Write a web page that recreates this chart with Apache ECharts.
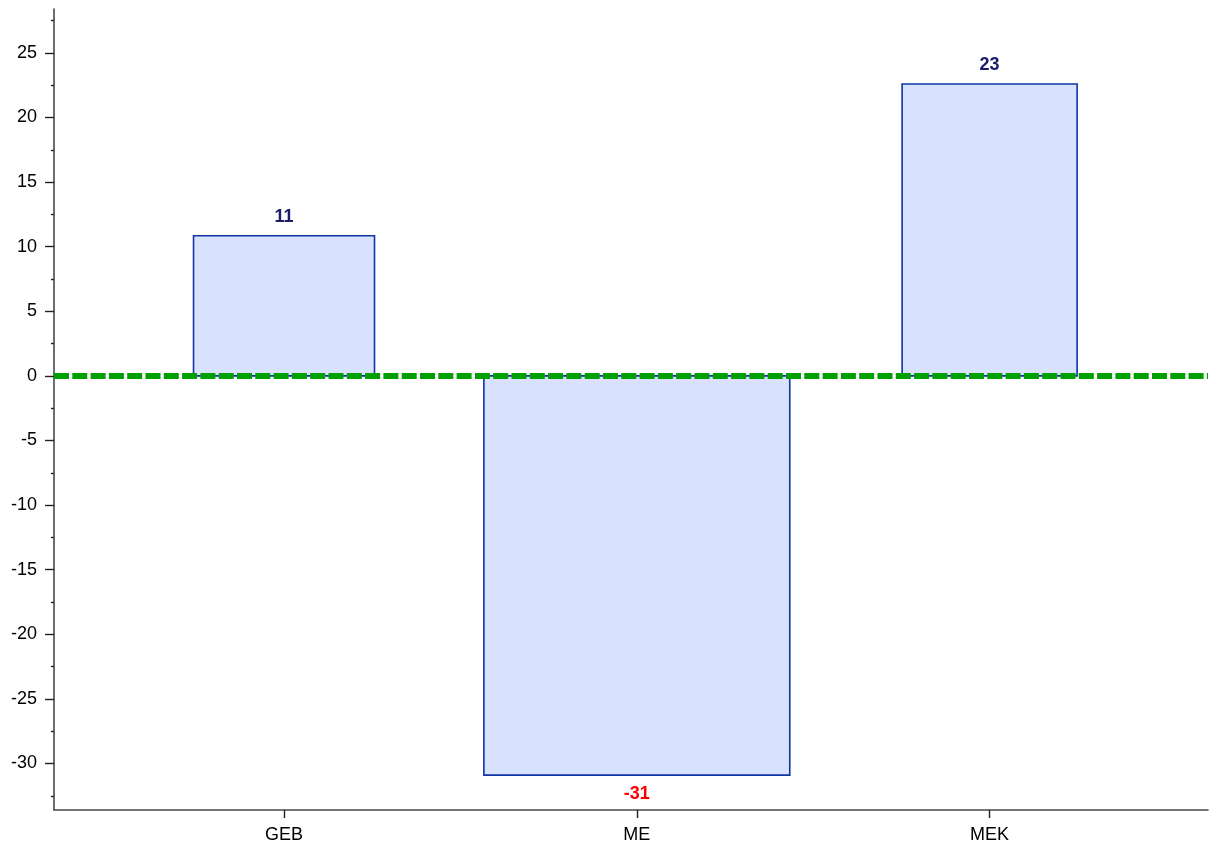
<!DOCTYPE html>
<html>
<head>
<meta charset="utf-8">
<script src="https://cdn.jsdelivr.net/npm/echarts@6/dist/echarts.min.js"></script>
<style>
html,body{margin:0;padding:0;background:#fff;}
#chart{width:1209px;height:844px;}
</style>
</head>
<body>
<div id="chart"></div>
<script>
const categories = ['GEB', 'ME', 'MEK'];
const values = [10.85, -30.9, 22.6];
const barWidths = [0.513, 0.867, 0.496];
const yMajorTicks = [-30, -25, -20, -15, -10, -5, 0, 5, 10, 15, 20, 25];
const yMinorTicks = [-32.5, -27.5, -22.5, -17.5, -12.5, -7.5, -2.5, 2.5, 7.5, 12.5, 17.5, 22.5, 27.5];
const referenceValue = 0;

const FONT = 'Liberation Sans, Arial, sans-serif';
const chart = echarts.init(document.getElementById('chart'));
const positions = categories.map((c, i) => i + 1);
const data = categories.map((c, i) => [positions[i], values[i], barWidths[i]]);

const option = {
  animation: false,
  grid: {left: 54, right: 1, top: 9, bottom: 33.5, containLabel: false},
  xAxis: {
    type: 'value', min: 0.348, max: 3.619,
    axisLine: {show: true, onZero: false, lineStyle: {color: '#4a4a4a', width: 1.6}},
    axisTick: {show: true, length: 8, customValues: positions, lineStyle: {color: '#222', width: 1.4}},
    axisLabel: {customValues: positions, margin: 16, color: '#000', fontSize: 18, fontFamily: FONT,
      formatter: v => categories[Math.round(v) - 1] || ''},
    splitLine: {show: false}
  },
  yAxis: [{
    type: 'value', min: -33.6, max: 28.4,
    axisLine: {show: true, onZero: false, lineStyle: {color: '#4a4a4a', width: 1.6}},
    axisTick: {show: true, inside: false, length: 9, customValues: yMajorTicks, lineStyle: {color: '#222', width: 1.4}},
    axisLabel: {customValues: yMajorTicks, margin: 17, color: '#000', fontSize: 18, fontFamily: FONT},
    splitLine: {show: false}
  }, {
    type: 'value', min: -33.6, max: 28.4, position: 'left', offset: 0,
    axisLine: {show: false},
    axisTick: {show: true, length: 3, customValues: yMinorTicks, lineStyle: {color: '#222', width: 1.4}},
    axisLabel: {show: false, customValues: yMinorTicks},
    splitLine: {show: false}
  }],
  series: [{
    type: 'custom',
    data: data,
    encode: {x: 0, y: 1},
    renderItem: function (params, api) {
      const x = api.value(0), y = api.value(1), w = api.value(2);
      const p0 = api.coord([x - w / 2, 0]);
      const p1 = api.coord([x + w / 2, y]);
      const left = p0[0], right = p1[0];
      const top = Math.min(p0[1], p1[1]), bottom = Math.max(p0[1], p1[1]);
      const neg = y < 0;
      const label = String(Math.round(y));
      return {
        type: 'group',
        children: [{
          type: 'rect',
          shape: {x: left, y: top, width: right - left, height: bottom - top},
          style: {fill: '#d9e2fd', stroke: '#0f34a6', lineWidth: 1.6}
        }, {
          type: 'text',
          style: {
            text: label,
            x: (left + right) / 2,
            y: neg ? bottom + 10 : top - 10,
            align: 'center',
            verticalAlign: neg ? 'top' : 'bottom',
            fill: neg ? '#ff0000' : '#1c1c6b',
            font: 'bold 18px ' + FONT
          }
        }]
      };
    },
    markLine: {
      silent: true, symbol: 'none', z: 10,
      label: {show: false},
      lineStyle: {color: '#00a000', width: 6, type: [15, 3.3], opacity: 1},
      data: [{yAxis: referenceValue}]
    },
    z: 2
  }]
};
chart.setOption(option);
</script>
</body>
</html>
